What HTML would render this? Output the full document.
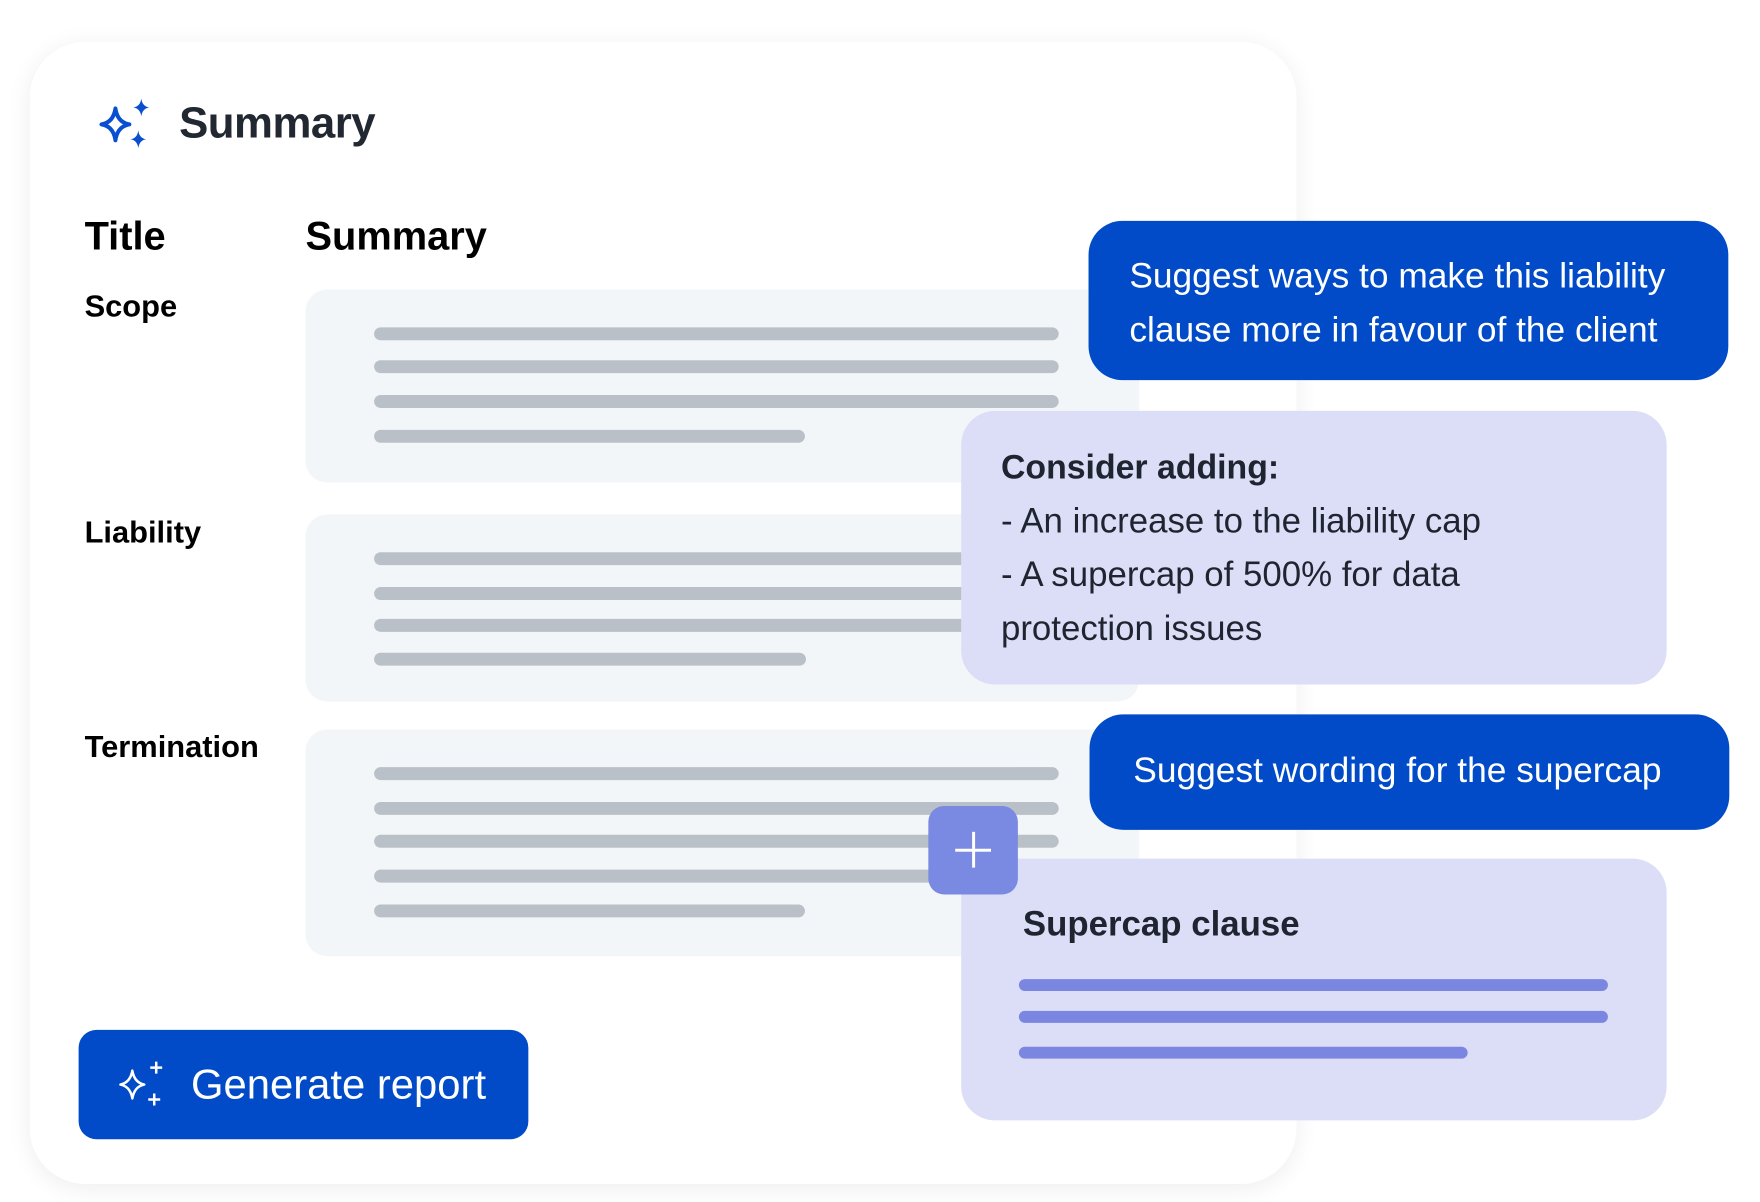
<!DOCTYPE html>
<html><head><meta charset="utf-8"><style>
*{margin:0;padding:0;box-sizing:border-box}
body{width:1760px;height:1202px;background:#fff;position:relative;overflow:hidden;font-family:"Liberation Sans",sans-serif}
#w{position:absolute;left:0;top:0;width:1760px;height:1202px;transform:scale(0.995);transform-origin:0 0}
.a{position:absolute}
.card{left:30px;top:42px;width:1273px;height:1148px;border-radius:56px;background:#fff;box-shadow:0 4px 24px rgba(0,0,0,0.07)}
.box{background:#f3f6f9;border-radius:22px;left:307px;width:838px}
.ln{height:13px;border-radius:7px;background:#b9c0c8;left:376px}
.bl{background:#014bc8;border-radius:34px;color:#fff;font-size:35.5px}
.pu{background:#dcdef7;border-radius:34px;color:#1f2530}
.pl{height:12px;border-radius:6px;background:#7b86e0;left:1024px}
.lab{color:#000;font-size:31px;font-weight:bold;left:85px}
</style></head><body><div id="w">
<div class="a card"></div>
<svg class="a" style="left:97px;top:97px" width="60" height="56" viewBox="0 0 60 56">
<path d="M19 12 Q21 26 33 28 Q21 30 19 44 Q17 30 5 28 Q17 26 19 12Z" fill="none" stroke="#0a4fd0" stroke-width="4" stroke-linejoin="round"/>
<path d="M45 2 Q46 10 53 11 Q46 12 45 20 Q44 12 37 11 Q44 10 45 2Z" fill="#0a4fd0"/>
<path d="M42 34 Q43 42 50 43 Q43 44 42 52 Q41 44 34 43 Q41 42 42 34Z" fill="#0a4fd0"/>
</svg>
<div class="a" style="left:180px;top:99px;font-size:44px;color:#222831;font-weight:bold;letter-spacing:-0.5px">Summary</div>
<div class="a" style="left:85px;top:216px;font-size:40px;font-weight:bold">Title</div>
<div class="a" style="left:307px;top:216px;font-size:40px;font-weight:bold">Summary</div>
<div class="a lab" style="top:290px">Scope</div>
<div class="a lab" style="top:517px">Liability</div>
<div class="a lab" style="top:733px">Termination</div>

<div class="a box" style="top:291px;height:194px"></div>
<div class="a ln" style="top:329px;width:688px"></div>
<div class="a ln" style="top:362px;width:688px"></div>
<div class="a ln" style="top:397px;width:688px"></div>
<div class="a ln" style="top:432px;width:433px"></div>

<div class="a box" style="top:517px;height:188px"></div>
<div class="a ln" style="top:555px;width:688px"></div>
<div class="a ln" style="top:590px;width:688px"></div>
<div class="a ln" style="top:622px;width:688px"></div>
<div class="a ln" style="top:656px;width:434px"></div>

<div class="a box" style="top:733px;height:228px"></div>
<div class="a ln" style="top:771px;width:688px"></div>
<div class="a ln" style="top:806px;width:688px"></div>
<div class="a ln" style="top:839px;width:688px"></div>
<div class="a ln" style="top:874px;width:688px"></div>
<div class="a ln" style="top:909px;width:433px"></div>

<div class="a bl" style="left:1094px;top:222px;width:643px;height:160px;padding:28px 0 0 41px;line-height:54px">Suggest ways to make this liability<br>clause more in favour of the client</div>

<div class="a pu" style="left:966px;top:413px;width:709px;height:275px;padding:30px 0 0 40px;font-size:35px;line-height:54px"><b style="font-size:34px">Consider adding:</b><br>- An increase to the liability cap<br>- A supercap of 500% for data<br>protection issues</div>

<div class="a bl" style="left:1095px;top:718px;width:643px;height:116px;padding:30px 0 0 44px;line-height:52px">Suggest wording for the supercap</div>

<div class="a pu" style="left:966px;top:863px;width:709px;height:263px"></div>
<div class="a" style="left:1028px;top:909px;font-size:35px;font-weight:bold;color:#1f2530">Supercap clause</div>
<div class="a pl" style="top:984px;width:592px"></div>
<div class="a pl" style="top:1016px;width:592px"></div>
<div class="a pl" style="top:1052px;width:451px"></div>

<div class="a" style="left:933px;top:810px;width:90px;height:89px;border-radius:16px;background:#7a89e1"></div>
<div class="a" style="left:960px;top:853px;width:36px;height:3px;background:#fff"></div>
<div class="a" style="left:977px;top:836px;width:3px;height:36px;background:#fff"></div>

<div class="a" style="left:79px;top:1035px;width:452px;height:110px;border-radius:18px;background:#014bc8"></div>
<svg class="a" style="left:117px;top:1065px" width="50" height="50" viewBox="0 0 50 50">
<path d="M16 11 Q18 23 28 25 Q18 27 16 39 Q14 27 4 25 Q14 23 16 11Z" fill="none" stroke="#fff" stroke-width="2.5" stroke-linejoin="round"/>
<path d="M40 2v12M34 8h12M38 34v12M32 40h12" stroke="#fff" stroke-width="2.5"/>
</svg>
<div class="a" style="left:192px;top:1066px;font-size:42px;color:#fff">Generate report</div>
</div></body></html>
